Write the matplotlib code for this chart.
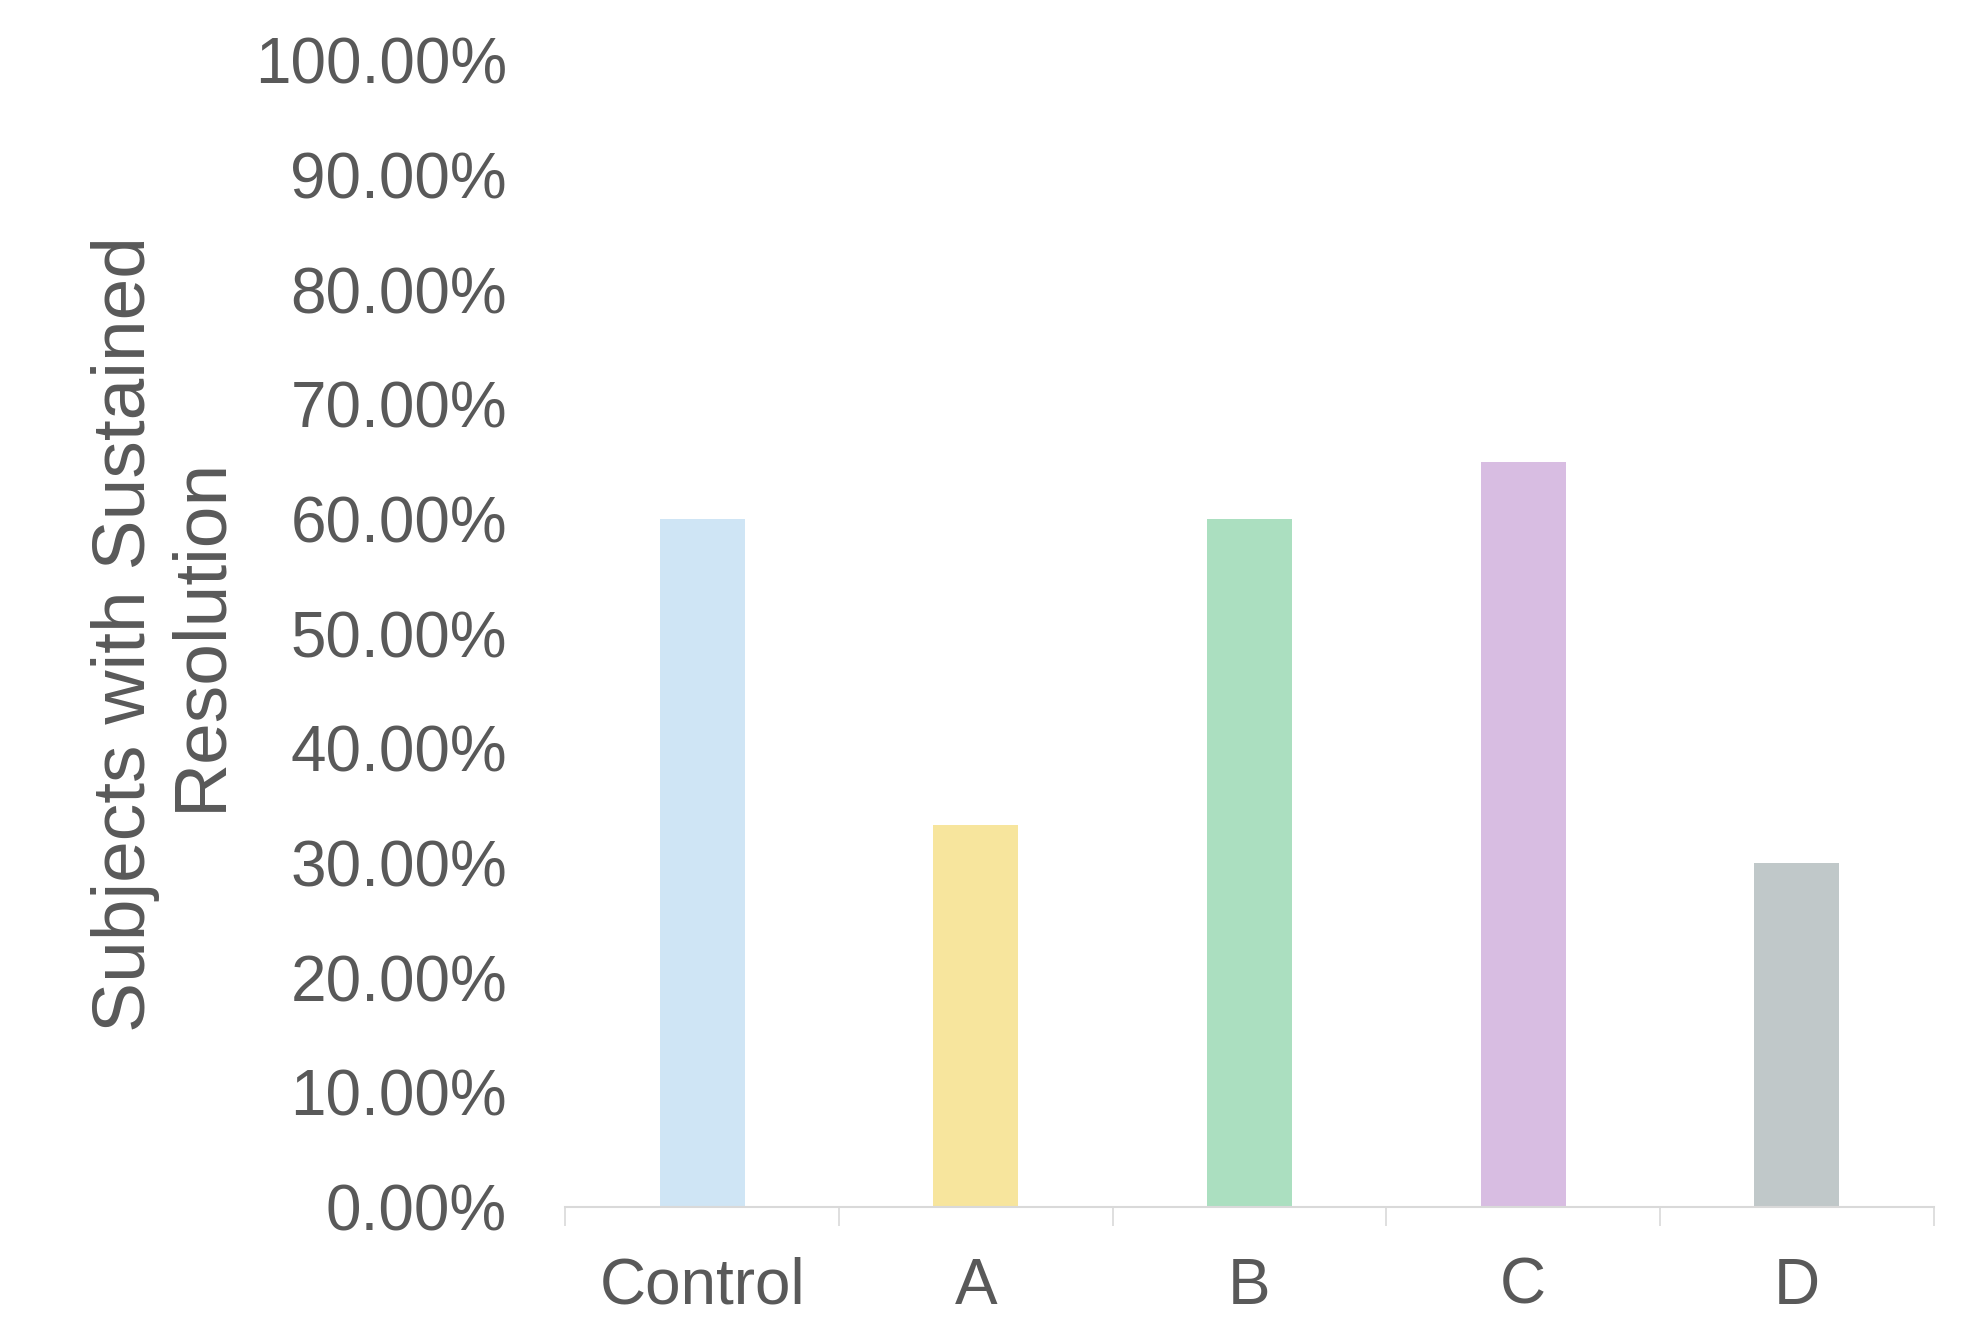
import numpy as np
import matplotlib.pyplot as plt
from matplotlib.ticker import PercentFormatter

plt.rcParams['font.family'] = ['Liberation Sans', 'DejaVu Sans']

grupos = ['Control', 'A', 'B', 'C', 'D']
resolucion = [60.0, 33.33, 60.0, 65.0, 30.0]
colores = ['#cfe5f5', '#f7e59d', '#abdfc0', '#d8bde2', '#c0c8c9']
gris = '#595959'

fig = plt.figure(figsize=(19.63, 13.22), dpi=100)
ax = fig.add_axes([0.288, 0.087, 0.697, 0.8674])

x = np.arange(len(grupos))
ax.bar(x, resolucion, width=0.31, color=colores, zorder=2)

ax.set_xlim(-0.5, len(grupos) - 0.5)
ax.set_ylim(0, 100)
ax.set_yticks(np.arange(0, 101, 10))
ax.yaxis.set_major_formatter(PercentFormatter(decimals=2))
ax.tick_params(axis='y', length=0, pad=42, labelsize=46, labelcolor=gris)

# etiquetas centradas, marcas entre categorias
ax.set_xticks(x)
ax.set_xticklabels(grupos)
ax.set_xticks(np.arange(-0.5, len(grupos), 1), minor=True)
ax.tick_params(axis='x', which='major', length=0, pad=36, labelsize=46, labelcolor=gris)
ax.tick_params(axis='x', which='minor', length=14, width=1.2, color='#d9d9d9', direction='out')

for lado in ['top', 'right', 'left']:
    ax.spines[lado].set_visible(False)
ax.spines['bottom'].set_color('#d9d9d9')
ax.spines['bottom'].set_linewidth(1.5)

ax.set_ylabel('Subjects with Sustained\nResolution', fontsize=54, color=gris,
              labelpad=14, linespacing=1.12)

fig.savefig('out.png', dpi=100)
plt.close()
